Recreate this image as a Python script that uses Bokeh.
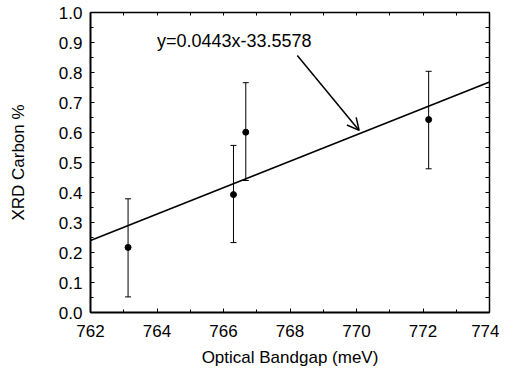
from bokeh.plotting import figure
from bokeh.models import (ColumnDataSource, Whisker, Arrow, OpenHead, LinearAxis,
                          Range1d, SingleIntervalTicker, Label, CustomJSTickFormatter)
from bokeh.embed import file_html
from bokeh.resources import INLINE

# data
bandgap = [763.13, 766.30, 766.67, 772.17]
carbon = [0.217, 0.393, 0.601, 0.643]
err_lo = [0.052, 0.233, 0.440, 0.479]
err_hi = [0.379, 0.557, 0.766, 0.804]
fit_x = [762, 774]
fit_y = [0.24, 0.768]
eq_text = "y=0.0443x-33.5578"
eq_pos = (764.0, 0.905)
arrow_start = (768.22, 0.857)
arrow_end = (770.08, 0.607)

FONT = "Liberation Sans"
FS = "17px"

p = figure(frame_width=399, frame_height=300, output_backend="svg", toolbar_location=None,
           x_range=Range1d(762, 774), y_range=Range1d(0, 1.0),
           min_border_left=90, min_border_right=10, min_border_top=12, min_border_bottom=60,
           x_axis_label="Optical Bandgap (meV)", y_axis_label="XRD Carbon %")
p.grid.visible = False
p.outline_line_color = None
p.background_fill_color = "white"
p.border_fill_color = "white"

def style_axis(ax, show_labels=True, width=2):
    ax.axis_line_color = "black"
    ax.axis_line_width = width
    ax.major_tick_in = 4
    ax.major_tick_out = 0
    ax.minor_tick_in = 3
    ax.minor_tick_out = 0
    ax.major_tick_line_color = "black"
    ax.minor_tick_line_color = "black"
    ax.major_label_text_font = FONT
    ax.major_label_text_font_size = FS
    ax.major_label_text_color = "black"
    ax.axis_label_text_font = FONT
    ax.axis_label_text_font_size = FS
    ax.axis_label_text_font_style = "normal"
    ax.axis_label_text_color = "black"
    if not show_labels:
        ax.major_label_text_font_size = "0px"
        ax.major_label_text_color = None

p.xaxis.ticker = SingleIntervalTicker(interval=2, num_minor_ticks=2)
p.yaxis.ticker = SingleIntervalTicker(interval=0.1, num_minor_ticks=2)
p.xaxis.major_label_standoff = 12
p.xaxis.axis_label_standoff = 8
p.yaxis.major_label_standoff = 8
p.yaxis.axis_label_standoff = 28
p.yaxis.formatter = CustomJSTickFormatter(code="return tick.toFixed(1);")
style_axis(p.xaxis[0])
style_axis(p.yaxis[0])

top = LinearAxis(ticker=SingleIntervalTicker(interval=1, num_minor_ticks=0))
style_axis(top, show_labels=False, width=1.5)
top.major_tick_in = 3
p.add_layout(top, "above")
right = LinearAxis(ticker=SingleIntervalTicker(interval=0.05, num_minor_ticks=0))
style_axis(right, show_labels=False, width=1.5)
right.major_tick_in = 4
p.add_layout(right, "right")

src = ColumnDataSource(dict(x=bandgap, y=carbon, lo=err_lo, hi=err_hi))
w = Whisker(source=src, base="x", lower="lo", upper="hi", line_color="black", line_width=1)
w.upper_head.size = 6
w.lower_head.size = 6
w.upper_head.line_color = "black"
w.lower_head.line_color = "black"
p.add_layout(w)
p.scatter("x", "y", source=src, size=6, color="black")

p.line(fit_x, fit_y, line_color="black", line_width=1.6)

p.add_layout(Label(x=eq_pos[0], y=eq_pos[1], text=eq_text, text_font=FONT,
                   text_font_size="18px", text_baseline="middle", text_align="left",
                   text_color="black"))
p.add_layout(Arrow(end=OpenHead(size=12, line_width=1.5, line_color="black"),
                   x_start=arrow_start[0], y_start=arrow_start[1],
                   x_end=arrow_end[0], y_end=arrow_end[1],
                   line_width=1.5, line_color="black"))

open("out.html", "w").write(file_html(p, INLINE))
